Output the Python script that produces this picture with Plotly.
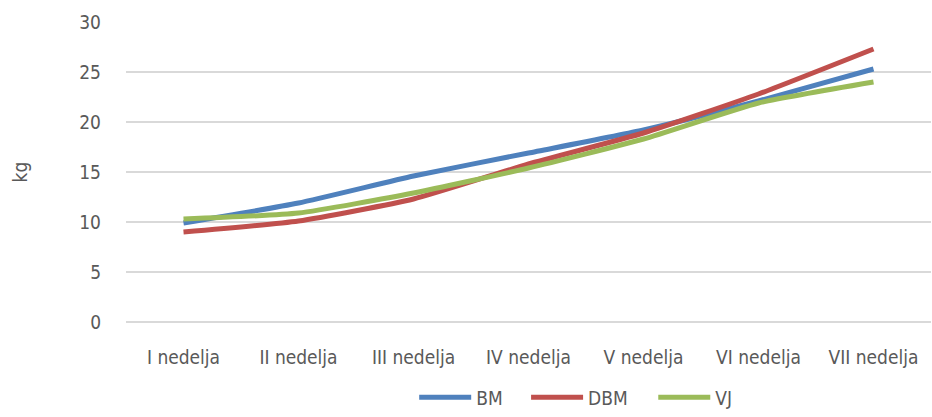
import plotly.graph_objects as go

# Weekly body mass per group (kg)
weeks = ["I nedelja", "II nedelja", "III nedelja", "IV nedelja",
         "V nedelja", "VI nedelja", "VII nedelja"]
bm = [9.9, 11.9, 14.6, 16.9, 19.2, 22.1, 25.3]
dbm = [9.0, 10.1, 12.3, 15.8, 18.9, 22.8, 27.3]
vj = [10.3, 10.9, 12.9, 15.4, 18.3, 21.9, 24.0]

series = [("BM", bm, "#4F81BD"), ("DBM", dbm, "#C0504D"), ("VJ", vj, "#9BBB59")]

font_family = "DejaVu Sans Condensed, Liberation Sans, sans-serif"
text_color = "#595959"

# one legend box per series so the entries sit at fixed spacing
legend_ids = ["legend", "legend2", "legend3"]
legend_x = [0.358, 0.497, 0.655]

fig = go.Figure()
for (name, vals, color), lid in zip(series, legend_ids):
    fig.add_trace(go.Scatter(
        x=weeks, y=vals, name=name, mode="lines", legend=lid,
        line=dict(color=color, width=5, shape="spline", smoothing=0.5),
    ))

legend_style = dict(orientation="h", xanchor="left", y=-0.315, yanchor="bottom",
                    font=dict(size=19, color=text_color), itemwidth=52,
                    bgcolor="rgba(0,0,0,0)")

fig.update_layout(
    width=932, height=417,
    margin=dict(l=126, r=1, t=22, b=95),
    paper_bgcolor="white", plot_bgcolor="white",
    font=dict(family=font_family, size=19, color=text_color),
    showlegend=True,
    xaxis=dict(range=[-0.5, 6.5], showgrid=False, zeroline=False, showline=False,
               ticks="", ticklabelstandoff=22,
               tickfont=dict(size=19, color=text_color)),
    yaxis=dict(range=[0, 30], dtick=5, showgrid=True, gridcolor="#D9D9D9",
               gridwidth=1.5, zeroline=True, zerolinecolor="#D9D9D9",
               zerolinewidth=2, showline=False, ticks="",
               ticklabelstandoff=24,
               tickfont=dict(size=19, color=text_color),
               title=dict(text="kg", standoff=46,
                          font=dict(size=19, color=text_color))),
)
for lid, lx in zip(legend_ids, legend_x):
    fig.update_layout({lid: dict(legend_style, x=lx)})

fig.write_html("out.html")
